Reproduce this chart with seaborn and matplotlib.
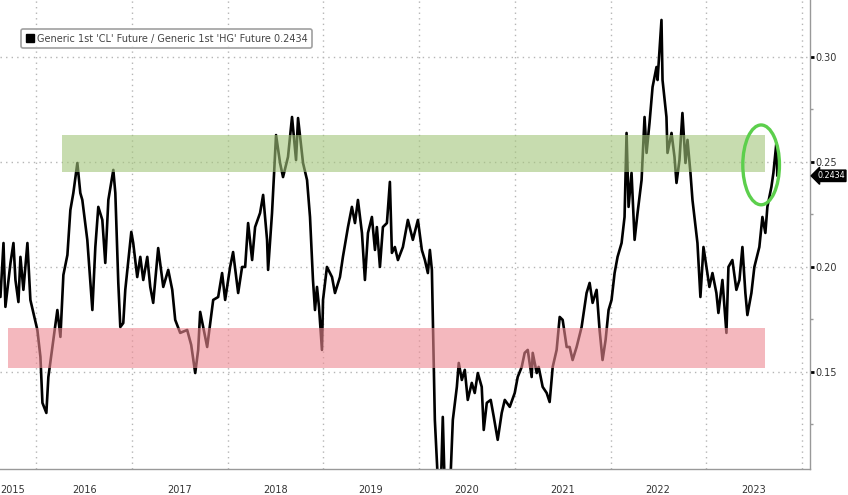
import numpy as np
import pandas as pd
import matplotlib
matplotlib.use("Agg")
import matplotlib.pyplot as plt
import matplotlib.dates as mdates
from matplotlib.patches import Ellipse
from matplotlib.lines import Line2D
import seaborn as sns

# Ratio CL / HG (time as decimal year)
year_frac = [
    2015.624, 2015.656, 2015.676, 2015.708, 2015.729, 2015.760, 2015.781, 2015.812, 2015.833, 2015.864,
    2015.906, 2015.937, 2015.969, 2016.010, 2016.042, 2016.063, 2016.104, 2016.125, 2016.177, 2016.219,
    2016.251, 2016.282, 2016.324, 2016.355, 2016.386, 2016.428, 2016.459, 2016.480, 2016.532, 2016.585,
    2016.616, 2016.647, 2016.689, 2016.720, 2016.752, 2016.804, 2016.825, 2016.856, 2016.877, 2016.908,
    2016.929, 2016.992, 2017.012, 2017.054, 2017.086, 2017.117, 2017.159, 2017.190, 2017.221, 2017.273,
    2017.326, 2017.378, 2017.420, 2017.451, 2017.503, 2017.576, 2017.618, 2017.660, 2017.691, 2017.712,
    2017.785, 2017.848, 2017.900, 2017.941, 2017.973, 2018.025, 2018.056, 2018.109, 2018.150, 2018.182,
    2018.213, 2018.255, 2018.286, 2018.338, 2018.370, 2018.411, 2018.422, 2018.463, 2018.505, 2018.547,
    2018.578, 2018.630, 2018.672, 2018.714, 2018.735, 2018.787, 2018.829, 2018.860, 2018.891, 2018.912,
    2018.933, 2018.954, 2018.985, 2018.996, 2019.037, 2019.090, 2019.121, 2019.173, 2019.204, 2019.257,
    2019.298, 2019.330, 2019.361, 2019.403, 2019.434, 2019.466, 2019.507, 2019.539, 2019.559, 2019.591,
    2019.622, 2019.664, 2019.695, 2019.716, 2019.747, 2019.779, 2019.831, 2019.883, 2019.935, 2019.988,
    2020.029, 2020.061, 2020.092, 2020.113, 2020.134, 2020.144, 2020.165, 2020.196, 2020.227, 2020.248,
    2020.269, 2020.301, 2020.332, 2020.353, 2020.395, 2020.415, 2020.447, 2020.478, 2020.509, 2020.551,
    2020.582, 2020.614, 2020.655, 2020.676, 2020.708, 2020.749, 2020.781, 2020.822, 2020.864, 2020.896,
    2020.948, 2021.000, 2021.031, 2021.073, 2021.104, 2021.136, 2021.177, 2021.188, 2021.230, 2021.250,
    2021.292, 2021.334, 2021.365, 2021.397, 2021.438, 2021.470, 2021.501, 2021.543, 2021.574, 2021.605,
    2021.647, 2021.699, 2021.751, 2021.783, 2021.814, 2021.856, 2021.887, 2021.918, 2021.950, 2021.981,
    2022.012, 2022.044, 2022.075, 2022.117, 2022.148, 2022.169, 2022.190, 2022.221, 2022.253, 2022.284,
    2022.326, 2022.357, 2022.378, 2022.409, 2022.441, 2022.482, 2022.493, 2022.513, 2022.534, 2022.545,
    2022.586, 2022.597, 2022.639, 2022.670, 2022.691, 2022.722, 2022.753, 2022.785, 2022.806, 2022.837,
    2022.858, 2022.879, 2022.910, 2022.941, 2022.973, 2023.004, 2023.035, 2023.067, 2023.108, 2023.129,
    2023.171, 2023.213, 2023.234, 2023.275, 2023.317, 2023.349, 2023.380, 2023.411, 2023.432, 2023.474,
    2023.505, 2023.557, 2023.589, 2023.620, 2023.641, 2023.683, 2023.704, 2023.735, 2023.745,
]
ratio = [
    0.1857, 0.2114, 0.1810, 0.1938, 0.2019, 0.2114, 0.1938, 0.1833, 0.2048, 0.1891,
    0.2114, 0.1843, 0.1781, 0.1700, 0.1572, 0.1353, 0.1305, 0.1476, 0.1653, 0.1795,
    0.1667, 0.1962, 0.2057, 0.2271, 0.2352, 0.2495, 0.2352, 0.2319, 0.2129, 0.1795,
    0.2095, 0.2286, 0.2224, 0.2019, 0.2319, 0.2462, 0.2352, 0.1924, 0.1714, 0.1733,
    0.1891, 0.2167, 0.2114, 0.1952, 0.2048, 0.1938, 0.2048, 0.1905, 0.1829, 0.2090,
    0.1905, 0.1986, 0.1891, 0.1748, 0.1686, 0.1700, 0.1629, 0.1495, 0.1605, 0.1786,
    0.1619, 0.1843, 0.1857, 0.1971, 0.1843, 0.2000, 0.2071, 0.1876, 0.2000, 0.2000,
    0.2209, 0.2033, 0.2190, 0.2257, 0.2343, 0.2129, 0.1986, 0.2257, 0.2628, 0.2495,
    0.2428, 0.2524, 0.2714, 0.2509, 0.2709, 0.2495, 0.2414, 0.2238, 0.1938, 0.1795,
    0.1905, 0.1810, 0.1605, 0.1843, 0.2000, 0.1952, 0.1876, 0.1952, 0.2048, 0.2190,
    0.2286, 0.2209, 0.2319, 0.2162, 0.1938, 0.2162, 0.2238, 0.2081, 0.2190, 0.2000,
    0.2190, 0.2209, 0.2405, 0.2067, 0.2095, 0.2033, 0.2095, 0.2224, 0.2129, 0.2224,
    0.2081, 0.2033, 0.1971, 0.2081, 0.1986, 0.1748, 0.1272, 0.0986, 0.0940, 0.1286,
    0.0938, 0.0915, 0.1034, 0.1272, 0.1429, 0.1543, 0.1462, 0.1510, 0.1367, 0.1448,
    0.1400, 0.1495, 0.1429, 0.1224, 0.1353, 0.1367, 0.1286, 0.1177, 0.1305, 0.1367,
    0.1334, 0.1400, 0.1476, 0.1524, 0.1591, 0.1605, 0.1476, 0.1591, 0.1495, 0.1524,
    0.1429, 0.1400, 0.1357, 0.1524, 0.1605, 0.1762, 0.1748, 0.1619, 0.1619, 0.1557,
    0.1619, 0.1714, 0.1876, 0.1924, 0.1829, 0.1891, 0.1700, 0.1557, 0.1653, 0.1795,
    0.1843, 0.1971, 0.2048, 0.2114, 0.2238, 0.2638, 0.2286, 0.2448, 0.2129, 0.2257,
    0.2414, 0.2714, 0.2543, 0.2686, 0.2857, 0.2952, 0.2890, 0.3033, 0.3176, 0.2890,
    0.2714, 0.2543, 0.2638, 0.2524, 0.2400, 0.2509, 0.2733, 0.2495, 0.2605, 0.2447,
    0.2319, 0.2238, 0.2114, 0.1857, 0.2095, 0.2000, 0.1905, 0.1971, 0.1876, 0.1781,
    0.1938, 0.1686, 0.2000, 0.2033, 0.1891, 0.1938, 0.2095, 0.1876, 0.1771, 0.1876,
    0.2000, 0.2095, 0.2238, 0.2162, 0.2286, 0.2381, 0.2448, 0.2590, 0.2434,
]
y_ticks = [0.15, 0.20, 0.25, 0.30]
last_value = 0.2434
legend_label = "Generic 1st 'CL' Future / Generic 1st 'HG' Future 0.2434"

dates = pd.Timestamp("2016-01-01") + pd.to_timedelta(
    (np.array(year_frac) - 2016) * 365.25, unit="D")
df = pd.DataFrame({"date": dates, "ratio": ratio})

sns.set_style("white")
plt.rcParams["font.family"] = ["DejaVu Sans"]

fig = plt.figure(figsize=(8.48, 4.95), dpi=100)
ax = fig.add_axes([0.0, 0.0525, 0.955, 0.9475])

sns.lineplot(data=df, x="date", y="ratio", color="black", linewidth=1.9, ax=ax, zorder=2)

# shaded zones (drawn on top, semi transparent)
ax.fill_between(pd.to_datetime(["2016-04-08", "2023-08-14"]), 0.2452, 0.2629,
                color="#a3c57a", alpha=0.6, lw=0, zorder=3)
ax.fill_between(pd.to_datetime(["2015-09-15", "2023-08-14"]), 0.1520, 0.1710,
                color="#ee8a93", alpha=0.6, lw=0, zorder=3)

# circle around the latest move
ell = Ellipse((mdates.date2num(pd.Timestamp("2023-07-30")), 0.2486), width=140, height=0.038,
              fill=False, edgecolor="#5ccf4c", lw=2.4, zorder=4)
ax.add_patch(ell)

ax.set_xlim(pd.Timestamp("2015-08-15"), pd.Timestamp("2024-02-01"))
ax.set_ylim(0.1038, 0.3271)


def year_label(v, pos):
    d = mdates.num2date(v)
    # first (partial) year is labelled under its visible part
    if d.month == 7 or (d.year == 2015 and d.month == 10):
        return str(d.year)
    return ""


# x axis: year separators + centred year labels
ax.xaxis.set_major_locator(mdates.YearLocator())
ax.xaxis.set_major_formatter(plt.NullFormatter())
ax.xaxis.set_minor_locator(mdates.MonthLocator([4, 7, 10]))
ax.xaxis.set_minor_formatter(plt.FuncFormatter(year_label))
ax.tick_params(axis="x", which="major", length=19, width=1, color="#999999", direction="out")
ax.tick_params(axis="x", which="minor", length=3, width=1, color="#999999",
               direction="inout", pad=10, labelsize=7, labelcolor="#333333")

# y axis on right
ax.yaxis.tick_right()
ax.set_yticks(y_ticks)
ax.set_yticks([0.125, 0.175, 0.225, 0.275], minor=True)
ax.yaxis.set_major_formatter(plt.FormatStrFormatter("%.2f"))
ax.tick_params(axis="y", which="major", length=3, width=2, color="black",
               direction="out", labelsize=7, labelcolor="#333333", pad=1)
ax.tick_params(axis="y", which="minor", length=2, width=1, color="#999999", direction="out")

ax.grid(True, which="major", color="#b5b5b5", linestyle=(0, (1, 3)), linewidth=1)
ax.set_xlabel("")
ax.set_ylabel("")
for side in ["left", "top"]:
    ax.spines[side].set_visible(False)
for side in ["right", "bottom"]:
    ax.spines[side].set_color("#999999")
    ax.spines[side].set_linewidth(1)

# last value tag
ax.text(1.009, last_value, f"{last_value:.4f}", transform=ax.get_yaxis_transform(),
        color="white", fontsize=5.8, va="center", ha="left",
        bbox=dict(boxstyle="larrow,pad=0.15", fc="black", ec="black"), clip_on=False)

handle = Line2D([], [], marker="s", color="black", linestyle="none", markersize=6)
leg = ax.legend([handle], [legend_label], loc="upper left", bbox_to_anchor=(0.02, 0.948),
                fontsize=7, frameon=True, fancybox=True, edgecolor="#888888",
                handletextpad=0.2, borderpad=0.45, handlelength=1.0, labelcolor="#444444")
leg.get_frame().set_linewidth(1.2)

fig.savefig("out.png", dpi=100)
